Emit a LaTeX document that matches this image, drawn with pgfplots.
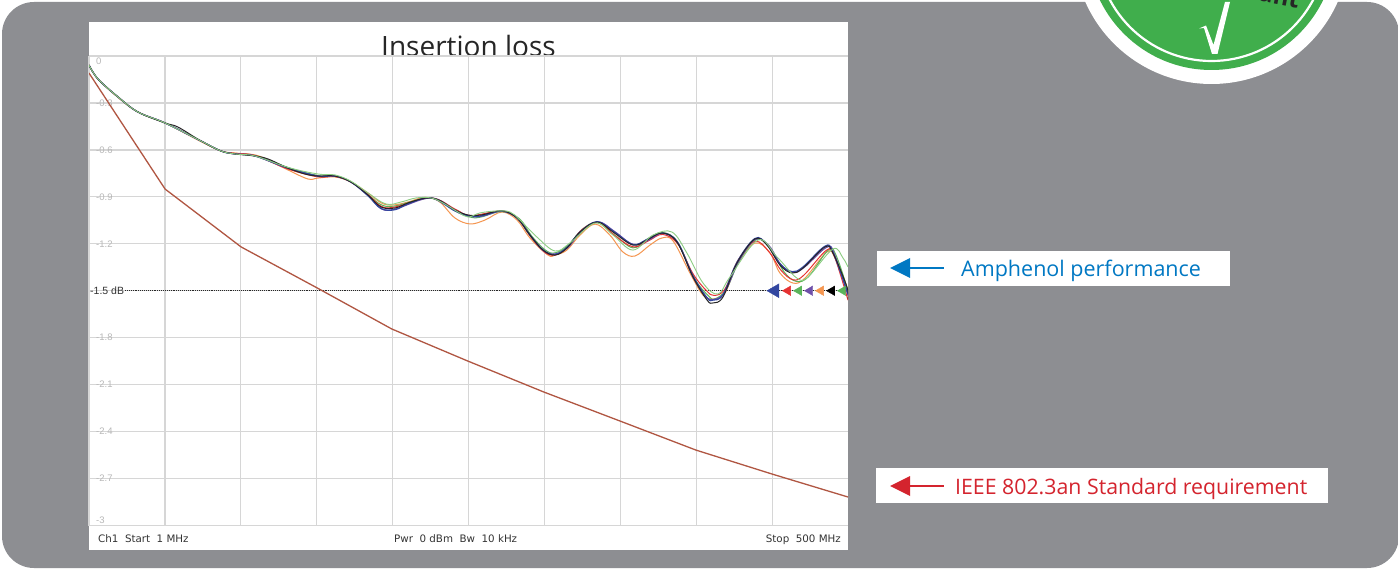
\documentclass[border=0pt]{standalone}
\usepackage{pgfplots}
\pgfplotsset{compat=1.18}
\usepackage{pgfplotstable}
\usepackage{fontspec}
\setmainfont{Open Sans}
\newfontfamily\scopefont{DejaVu Sans}
\newfontfamily\arialfont{Liberation Sans}
\definecolor{panelgrey}{RGB}{141,142,146}
\definecolor{badgegreen}{RGB}{64,174,76}
\definecolor{amphblue}{RGB}{0,120,195}
\definecolor{ieeered}{RGB}{212,36,46}
\definecolor{gridgrey}{RGB}{214,214,214}
\definecolor{brownline}{RGB}{176,86,66}
\definecolor{lgreen}{RGB}{140,205,130}
\definecolor{mgreen}{RGB}{90,180,90}
\definecolor{orangeline}{RGB}{245,150,80}
\definecolor{redline}{RGB}{230,50,50}
\definecolor{purpleline}{RGB}{110,80,170}
\definecolor{blueline}{RGB}{50,70,160}
\pgfplotstableread{
x y
1 -0.109
51 -0.85
101 -1.22
151 -1.482
200 -1.744
250 -1.949
300 -2.147
350 -2.332
400 -2.518
450 -2.671
500 -2.818
}\ieee
\pgfplotstableread{
x y
1 -0.058
6.9 -0.147
20.1 -0.262
33.2 -0.358
51 -0.428
59.5 -0.454
74.6 -0.543
87.8 -0.607
97 -0.626
110.1 -0.639
118.7 -0.658
131.8 -0.716
143 -0.754
151.5 -0.767
162.7 -0.767
173.2 -0.805
184.4 -0.888
193 -0.965
202.2 -0.971
210.7 -0.939
219.3 -0.914
225.8 -0.907
232.4 -0.927
241.6 -0.984
250.2 -1.016
258.7 -1.016
272.5 -0.990
282.4 -1.035
290.9 -1.144
299.5 -1.240
307.4 -1.272
315.2 -1.227
323.8 -1.125
335 -1.061
345.5 -1.125
358.6 -1.208
367.8 -1.176
377.7 -1.131
387.6 -1.189
398.1 -1.412
407.3 -1.559
411.2 -1.578
417.8 -1.540
427 -1.323
438.8 -1.169
446.7 -1.208
455.3 -1.336
463.2 -1.387
470.4 -1.355
484.9 -1.220
490.1 -1.259
499.3 -1.476
500 -1.55
}\blackdata
\pgfplotstableread{
x y
1 -0.058
6.9 -0.147
20.1 -0.262
33.2 -0.358
51 -0.428
74.6 -0.543
87.8 -0.607
97 -0.626
110.1 -0.639
131.8 -0.716
151.5 -0.767
162.7 -0.767
173.2 -0.805
184.4 -0.893
193 -0.975
202.2 -0.982
210.7 -0.945
225.8 -0.907
241.6 -0.99
250.2 -1.022
258.7 -1.022
272.5 -0.990
282.4 -1.035
290.9 -1.144
299.5 -1.240
307.4 -1.268
315.2 -1.222
323.8 -1.125
335 -1.058
345.5 -1.118
358.6 -1.204
367.8 -1.172
377.7 -1.131
387.6 -1.185
398.1 -1.405
407.3 -1.545
411.2 -1.560
417.8 -1.525
427 -1.318
438.8 -1.166
446.7 -1.204
455.3 -1.328
463.2 -1.378
470.4 -1.348
484.9 -1.215
490.1 -1.255
500 -1.52
}\bluedata
\pgfplotstableread{
x y
1 -0.058
6.9 -0.147
20.1 -0.262
33.2 -0.358
51 -0.428
74.6 -0.543
87.8 -0.607
97 -0.626
110.1 -0.639
131.8 -0.716
151.5 -0.767
162.7 -0.767
173.2 -0.805
184.4 -0.89
193 -0.975
202.2 -0.978
225.8 -0.907
242 -0.988
252 -1.024
260 -1.022
272.5 -0.992
283 -1.038
291 -1.146
300 -1.244
307.4 -1.265
316 -1.222
325 -1.115
336 -1.060
347 -1.125
359 -1.205
369 -1.175
378 -1.133
388 -1.192
398 -1.41
407 -1.54
412 -1.555
419 -1.51
428 -1.315
439 -1.172
448 -1.212
456 -1.335
464 -1.382
471 -1.352
486 -1.222
491 -1.265
500 -1.53
}\purpledata
\pgfplotstableread{
x y
1 -0.058
6.9 -0.147
20.1 -0.262
33.2 -0.358
51 -0.428
74.6 -0.543
87.8 -0.607
97 -0.622
110.1 -0.636
131.8 -0.722
151.5 -0.772
162.7 -0.770
173.2 -0.805
184.4 -0.885
193 -0.96
202 -0.965
225.8 -0.907
242 -0.98
252 -1.02
272.5 -0.99
283 -1.04
291 -1.15
300 -1.25
307.4 -1.272
316 -1.22
325 -1.11
336 -1.064
347 -1.15
359 -1.22
369 -1.18
378 -1.14
388 -1.2
398 -1.39
407 -1.50
412 -1.53
419 -1.49
428 -1.30
439 -1.185
448 -1.25
456 -1.37
464 -1.43
471 -1.40
486 -1.24
491 -1.28
500 -1.56
}\reddata
\pgfplotstableread{
x y
1 -0.058
6.9 -0.147
20.1 -0.262
33.2 -0.358
51 -0.428
74.6 -0.543
87.8 -0.607
97 -0.624
110.1 -0.636
131.8 -0.712
151.5 -0.764
162.7 -0.767
173.2 -0.805
184.4 -0.885
193 -0.95
202.2 -0.958
225.8 -0.907
241.6 -0.99
252 -1.03
258.7 -1.029
272.5 -0.994
284 -1.04
292 -1.15
301 -1.24
307.4 -1.258
316 -1.21
325 -1.11
335 -1.064
346 -1.14
358.6 -1.226
368 -1.17
378 -1.128
388 -1.19
399 -1.42
409 -1.54
413 -1.55
420 -1.49
429 -1.30
440 -1.172
449 -1.23
458 -1.38
466 -1.44
474 -1.41
487 -1.24
492 -1.27
500 -1.50
}\greendata
\pgfplotstableread{
x y
1 -0.058
6.9 -0.147
20.1 -0.265
33.2 -0.358
51 -0.428
74.6 -0.547
87.8 -0.607
97 -0.62
110.1 -0.632
118.7 -0.665
131.8 -0.728
145 -0.786
151.5 -0.78
162.7 -0.773
173.2 -0.805
184.4 -0.875
193.2 -0.939
200.9 -0.952
210.7 -0.933
219.3 -0.907
225.8 -0.907
232.4 -0.939
241.6 -1.035
251.5 -1.073
261.4 -1.048
272.5 -0.997
282.4 -1.048
290.9 -1.163
302.8 -1.272
307.4 -1.272
315.2 -1.240
323.8 -1.144
333.7 -1.074
343.4 -1.144
352 -1.252
359.9 -1.278
369.8 -1.208
377.7 -1.163
385 -1.182
396.1 -1.387
404.6 -1.527
411.2 -1.553
419.1 -1.514
427 -1.336
438.8 -1.195
448.7 -1.259
455.3 -1.387
463.9 -1.451
471.7 -1.419
486.2 -1.252
491.5 -1.291
499.3 -1.476
500 -1.54
}\orangedata
\pgfplotstableread{
x y
1 -0.058
6.9 -0.147
20.1 -0.262
33.2 -0.358
51 -0.428
74.6 -0.543
87.8 -0.607
97 -0.626
110.1 -0.639
131.8 -0.712
151.5 -0.754
162.7 -0.760
173.2 -0.800
184.4 -0.875
196.3 -0.946
206.1 -0.933
216 -0.907
225.8 -0.907
233.7 -0.939
243.6 -0.997
250.2 -1.029
258 -1.003
269.2 -0.990
277.8 -0.997
284.3 -1.048
295.5 -1.157
307.4 -1.246
317.2 -1.195
333.7 -1.067
345.5 -1.144
358.6 -1.240
371.8 -1.144
384.3 -1.125
394.1 -1.259
404.7 -1.451
414.5 -1.521
422.4 -1.412
440.8 -1.176
453.3 -1.284
466.4 -1.419
473.7 -1.412
490.1 -1.233
496.7 -1.291
500 -1.348
}\lgreendata
\begin{document}
\begin{tikzpicture}[x=1pt,y=-1pt]
\clip (0,0) rectangle (1398,569);
\fill[white] (0,0) rectangle (1398,569);
\fill[panelgrey,rounded corners=32pt] (2,2) rectangle (1399,568);
% badge
\fill[white] (1211.5,-54) circle[radius=138];
\fill[badgegreen] (1211.5,-54) circle[radius=124];
\draw[white,line width=2.2pt] (1211.5,-54) circle[radius=115];
\fill[white] (1199,28.5) -- (1206,25.5) -- (1213.5,45) -- (1225,2) -- (1230,2) -- (1217.5,54) -- (1212,54) -- (1204,28) -- cycle;
\node[font=\bfseries\fontsize{24}{28}\selectfont,text=black!85,anchor=base east,inner sep=0,rotate=-11] at (1298,8.5) {ant};
% white panel and title
\fill[white] (89,22) rectangle (848,550);
\node[font=\fontsize{28}{33}\selectfont,text=black!85,anchor=base] at (468.5,56.5) {Insertion loss};
% status bar
\node[font=\scopefont\fontsize{10.3}{12}\selectfont,text=black!80,anchor=base west,inner sep=0] at (98,542) {Ch1\ \ Start\ \ 1 MHz};
\node[font=\scopefont\fontsize{10.3}{12}\selectfont,text=black!80,anchor=base west,inner sep=0] at (394,542) {Pwr\ \ 0 dBm\ \ Bw\ \ 10 kHz};
\node[font=\scopefont\fontsize{10.3}{12}\selectfont,text=black!80,anchor=base east,inner sep=0] at (841,542) {Stop\ \ 500 MHz};
\begin{axis}[
  at={(89pt,-525.5pt)},anchor=south west,
  scale only axis,width=759pt,height=469.5pt,
  xmin=1,xmax=500,ymin=-3,ymax=0,
  xtick={50.9,100.8,150.7,200.6,250.5,300.4,350.3,400.2,450.1},
  xticklabels={},
  ytick={0,-0.3,-0.6,-0.9,-1.2,-1.5,-1.8,-2.1,-2.4,-2.7,-3},
  yticklabels={\smash{\raisebox{-8.5pt}{0}},-0.3,-0.6,-0.9,-1.2,,-1.8,-2.1,-2.4,-2.7,\smash{\raisebox{2pt}{-3}}},
  /pgf/number format/assume math mode=true,
  yticklabel style={anchor=west,xshift=7pt,inner sep=0pt,text=black!28,font=\arialfont\fontsize{9.5}{10}\selectfont},
  major tick length=0pt,
  grid=major,
  grid style={gridgrey,line width=1.2pt},
  axis line style={gridgrey,line width=1.2pt},
  axis x line*=bottom,
  axis y line*=left,
  axis background/.style={fill=white},
  clip=true,
]
\addplot[black!85,densely dotted,line width=0.9pt] coordinates {(24.7,-1.5)(500,-1.5)};
\addplot[brownline,line width=1.3pt] table {\ieee};
\addplot[orangeline,line width=1pt,smooth,tension=0.6] table {\orangedata};
\addplot[mgreen,line width=1pt,smooth,tension=0.6] table {\greendata};
\addplot[redline,line width=1pt,smooth,tension=0.6] table {\reddata};
\addplot[purpleline,line width=1.2pt,smooth,tension=0.6] table {\purpledata};
\addplot[blueline,line width=1.2pt,smooth,tension=0.6] table {\bluedata};
\addplot[black!85,line width=1pt,smooth,tension=0.6] table {\blackdata};
\addplot[lgreen,line width=0.9pt,smooth,tension=0.6] table {\lgreendata};
\addplot[only marks,mark=triangle*,mark size=8pt,mark options={rotate=90,fill=blueline,draw=blueline}] coordinates {(452,-1.5)};
\addplot[only marks,mark=triangle*,mark size=5.5pt,mark options={rotate=90,fill=redline,draw=redline}] coordinates {(460.5,-1.5)};
\addplot[only marks,mark=triangle*,mark size=5.5pt,mark options={rotate=90,fill=mgreen,draw=mgreen}] coordinates {(467.8,-1.5)};
\addplot[only marks,mark=triangle*,mark size=5.5pt,mark options={rotate=90,fill=purpleline,draw=purpleline}] coordinates {(475,-1.5)};
\addplot[only marks,mark=triangle*,mark size=5.5pt,mark options={rotate=90,fill=orangeline,draw=orangeline}] coordinates {(482.2,-1.5)};
\addplot[only marks,mark=triangle*,mark size=5.5pt,mark options={rotate=90,fill=black,draw=black}] coordinates {(489.5,-1.5)};
\addplot[only marks,mark=triangle*,mark size=5.5pt,mark options={rotate=90,fill=mgreen,draw=mgreen}] coordinates {(496.7,-1.5)};
\end{axis}
\node[font=\arialfont\fontsize{10.5}{12}\selectfont,text=black!80,anchor=west,inner sep=0] at (90,290.5) {-1.5 dB};
% annotations
\fill[white] (877,251) rectangle (1230,286);
\fill[amphblue] (890,268) -- (910,258) -- (910,278) -- cycle;
\draw[amphblue,line width=1.4pt] (905,268) -- (944,268);
\node[font=\fontsize{21.5}{24}\selectfont,text=amphblue,anchor=base west,inner sep=0] at (961,276.5) {Amphenol performance};
\fill[white] (876,468) rectangle (1328,503);
\fill[ieeered] (890,486) -- (910,476) -- (910,496) -- cycle;
\draw[ieeered,line width=1.4pt] (905,486) -- (944,486);
\node[font=\fontsize{21.3}{24}\selectfont,text=ieeered,anchor=base west,inner sep=0] at (955,494.5) {IEEE 802.3an Standard requirement};
\end{tikzpicture}
\end{document}
